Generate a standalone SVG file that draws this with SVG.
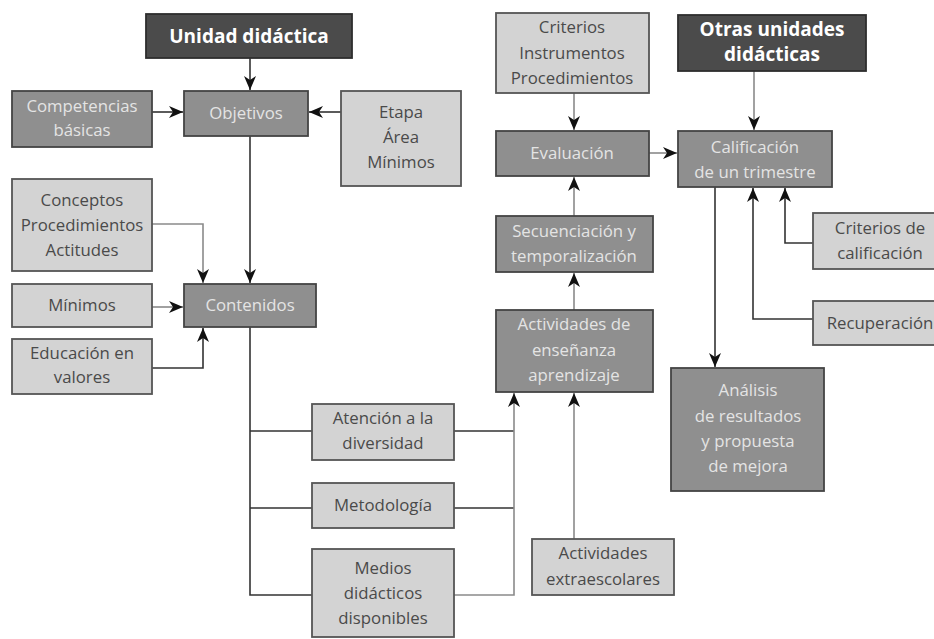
<svg xmlns="http://www.w3.org/2000/svg" width="934" height="639" viewBox="0 0 934 639">
<style>
.dk{fill:#4b4b4b;stroke:#2e2e2e;stroke-width:1.8}
.md{fill:#8f8f8f;stroke:#444;stroke-width:1.8}
.lt{fill:#d3d3d3;stroke:#555;stroke-width:1.8}
text{font-family:"Open Sans","Noto Sans",sans-serif;font-size:16.8px;text-anchor:middle}
.tb{fill:#ffffff;font-weight:bold;font-size:19px}
.tm{fill:#e4e4e4}
.tl{fill:#4a4a4a}
.c{fill:none;stroke:#333;stroke-width:1.6}
.cg{fill:none;stroke:#8a8a8a;stroke-width:1.6}
.a{marker-end:url(#ah)}
</style>
<defs>
<marker id="ah" markerUnits="userSpaceOnUse" markerWidth="16" markerHeight="12" refX="14" refY="6" orient="auto">
<path d="M0,0 L14,6 L0,12 L4,6 z" fill="#111"/>
</marker>
</defs>
<g id="connectors">
<path class="c a" d="M250,58 V90"/>
<path class="c a" d="M152,112 H183"/>
<path class="c a" d="M341,112 H309"/>
<path class="c a" d="M250,136 V283"/>
<path class="cg a" d="M152,224 H203 V283"/>
<path class="cg a" d="M152,307 H183"/>
<path class="c a" d="M152,368 H203 V328"/>
<path class="c" d="M250,327 V595 H312 M250,431 H312 M250,508 H312"/>
<path class="c" d="M454,431 H514 M454,508 H514"/>
<path class="cg a" d="M454,595 H514 V393"/>
<path class="cg a" d="M574,539 V393"/>
<path class="cg a" d="M574,310 V273"/>
<path class="cg a" d="M574,216 V177"/>
<path class="cg a" d="M574,93 V130"/>
<path class="cg a" d="M649,153 H677"/>
<path class="cg a" d="M754,71 V130"/>
<path class="c a" d="M715,187 V367"/>
<path class="c a" d="M813,243 H785 V188"/>
<path class="c a" d="M813,319 H753 V188"/>
</g>
<g id="unidad"><rect class="dk" x="146" y="14" width="206" height="44"/><text class="tb" x="249" y="43">Unidad didáctica</text></g>
<g id="competencias"><rect class="md" x="12" y="91" width="140" height="56"/><text class="tm" x="82" y="112">Competencias</text><text class="tm" x="82" y="136">básicas</text></g>
<g id="objetivos"><rect class="md" x="184" y="91" width="124" height="45"/><text class="tm" x="246" y="119">Objetivos</text></g>
<g id="etapa"><rect class="lt" x="341" y="91" width="120" height="95"/><text class="tl" x="401" y="118">Etapa</text><text class="tl" x="401" y="143">Área</text><text class="tl" x="401" y="168">Mínimos</text></g>
<g id="conceptos"><rect class="lt" x="12" y="179" width="140" height="92"/><text class="tl" x="82" y="206">Conceptos</text><text class="tl" x="82" y="231">Procedimientos</text><text class="tl" x="82" y="256">Actitudes</text></g>
<g id="minimos"><rect class="lt" x="12" y="284" width="140" height="43"/><text class="tl" x="82" y="311">Mínimos</text></g>
<g id="contenidos"><rect class="md" x="184" y="284" width="132" height="43"/><text class="tm" x="250" y="311">Contenidos</text></g>
<g id="educacion"><rect class="lt" x="12" y="339" width="140" height="55"/><text class="tl" x="82" y="359">Educación en</text><text class="tl" x="82" y="383">valores</text></g>
<g id="atencion"><rect class="lt" x="312" y="404" width="142" height="56"/><text class="tl" x="383" y="424">Atención a la</text><text class="tl" x="383" y="449">diversidad</text></g>
<g id="metodologia"><rect class="lt" x="312" y="483" width="142" height="45"/><text class="tl" x="383" y="511">Metodología</text></g>
<g id="medios"><rect class="lt" x="312" y="549" width="142" height="88"/><text class="tl" x="383" y="574">Medios</text><text class="tl" x="383" y="599">didácticos</text><text class="tl" x="383" y="624">disponibles</text></g>
<g id="extraescolares"><rect class="lt" x="532" y="539" width="142" height="56"/><text class="tl" x="603" y="559">Actividades</text><text class="tl" x="603" y="585">extraescolares</text></g>
<g id="actividades"><rect class="md" x="496" y="310" width="157" height="82"/><text class="tm" x="574" y="330">Actividades de</text><text class="tm" x="574" y="356">enseñanza</text><text class="tm" x="574" y="381">aprendizaje</text></g>
<g id="secuenciacion"><rect class="md" x="496" y="216" width="157" height="56"/><text class="tm" x="574" y="237">Secuenciación y</text><text class="tm" x="574" y="262">temporalización</text></g>
<g id="evaluacion"><rect class="md" x="496" y="131" width="153" height="45"/><text class="tm" x="572" y="159">Evaluación</text></g>
<g id="criterios"><rect class="lt" x="496" y="13" width="153" height="80"/><text class="tl" x="572" y="33">Criterios</text><text class="tl" x="572" y="59">Instrumentos</text><text class="tl" x="572" y="84">Procedimientos</text></g>
<g id="otras"><rect class="dk" x="678" y="15" width="188" height="56"/><text class="tb" x="772" y="36">Otras unidades</text><text class="tb" x="772" y="61">didácticas</text></g>
<g id="calificacion"><rect class="md" x="678" y="131" width="154" height="56"/><text class="tm" x="755" y="153">Calificación</text><text class="tm" x="755" y="178">de un trimestre</text></g>
<g id="criterios-calificacion"><rect class="lt" x="813" y="213" width="130" height="56"/><text class="tl" x="880" y="234">Criterios de</text><text class="tl" x="880" y="259">calificación</text></g>
<g id="recuperacion"><rect class="lt" x="813" y="301" width="130" height="44"/><text class="tl" x="880" y="329">Recuperación</text></g>
<g id="analisis"><rect class="md" x="671" y="368" width="153" height="123"/><text class="tm" x="748" y="396">Análisis</text><text class="tm" x="748" y="422">de resultados</text><text class="tm" x="748" y="447">y propuesta</text><text class="tm" x="748" y="472">de mejora</text></g>
</svg>
